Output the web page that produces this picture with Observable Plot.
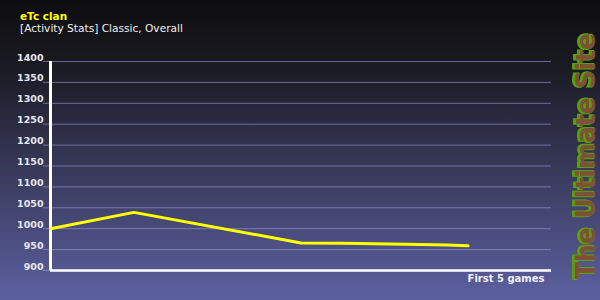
<!DOCTYPE html>
<html>
<head>
<meta charset="utf-8">
<script src="https://cdn.jsdelivr.net/npm/d3@7"></script>
<script src="https://cdn.jsdelivr.net/npm/@observablehq/plot@0.6"></script>
<style>
  html, body { margin: 0; padding: 0; }
  #wrap {
    position: relative; width: 600px; height: 300px; overflow: hidden;
    background: linear-gradient(to bottom, #0d0d10 0%, #18181f 20%, #3c3e62 62%, #5c60a0 100%);
    font-family: "DejaVu Sans", Verdana, sans-serif;
  }
  #chart { position: absolute; left: 0; top: 0; }
  #overlay { position: absolute; left: 0; top: 0; pointer-events: none; }
</style>
</head>
<body>
<div id="wrap">
  <div id="chart"></div>
  <svg id="overlay" width="600" height="300"></svg>
</div>
<script>
// ---- data ----
const title = "eTc clan";
const subtitle = "[Activity Stats] Classic, Overall";
const xLabel = "First 5 games";
const brand = "The Ultimate Site";
const games = [0, 1, 3, 3.5, 4.25, 4.75, 5];
const ratings = [1000, 1039, 966, 965, 963, 961, 959];
const yTicks = [900, 950, 1000, 1050, 1100, 1150, 1200, 1250, 1300, 1350, 1400];

const data = games.map((g, i) => ({game: g, rating: ratings[i]}));
const gridColor = "rgb(160,155,220)";

const chart = Plot.plot({
  width: 600,
  height: 300,
  marginLeft: 50,
  marginRight: 49,
  marginTop: 61,
  marginBottom: 30,
  style: {background: "transparent", fontFamily: "DejaVu Sans, Verdana, sans-serif", overflow: "visible"},
  x: {domain: [0, 6], axis: null},
  y: {domain: [900, 1400], label: null, axis: null},
  marks: [
    Plot.ruleY(yTicks, {stroke: gridColor, strokeOpacity: 0.6, strokeWidth: 1, insetLeft: -7}),
    Plot.axisY({ticks: yTicks, tickFormat: d3.format("d"), label: null, tickSize: 0, tickPadding: 7,
                dy: -4, fill: "#e8e8f0", fontWeight: "bold", fontSize: 9.5}),
    Plot.ruleX([0], {stroke: "white", strokeWidth: 3}),
    Plot.ruleY([900], {stroke: "white", strokeWidth: 2.5}),
    Plot.line(data, {x: "game", y: "rating", stroke: "#ffff00", strokeWidth: 3}),
    Plot.text([xLabel], {text: d => d, frameAnchor: "bottom-right", textAnchor: "end", lineAnchor: "middle",
                         dx: -7, dy: 8, fill: "#f0f0f8", fontWeight: "bold", fontSize: 10})
  ]
});
document.getElementById("chart").appendChild(chart);

// ---- titles and brand text ----
const ov = d3.select("#overlay");
ov.append("text").attr("x", 20).attr("y", 20)
  .attr("font-family", "DejaVu Sans").attr("font-weight", "bold").attr("font-size", 10.5)
  .attr("fill", "#ffff00").text(title);
ov.append("text").attr("x", 20).attr("y", 31.5)
  .attr("font-family", "DejaVu Sans").attr("font-size", 10.6)
  .attr("fill", "#f0f0f0").text(subtitle);

ov.append("text").attr("transform", "translate(593,279) rotate(-90)")
  .attr("font-family", "DejaVu Sans Condensed, DejaVu Sans").attr("font-weight", "bold").attr("font-size", 26)
  .attr("textLength", 246).attr("lengthAdjust", "spacingAndGlyphs")
  .attr("fill", "#5f9d12").attr("stroke", "#5f9d12").attr("stroke-width", 2).text(brand);
ov.append("text").attr("transform", "translate(594.5,279) rotate(-90)")
  .attr("font-family", "DejaVu Sans Condensed, DejaVu Sans").attr("font-weight", "bold").attr("font-size", 26)
  .attr("textLength", 246).attr("lengthAdjust", "spacingAndGlyphs")
  .attr("fill", "#7b5232").text(brand);
</script>
</body>
</html>
